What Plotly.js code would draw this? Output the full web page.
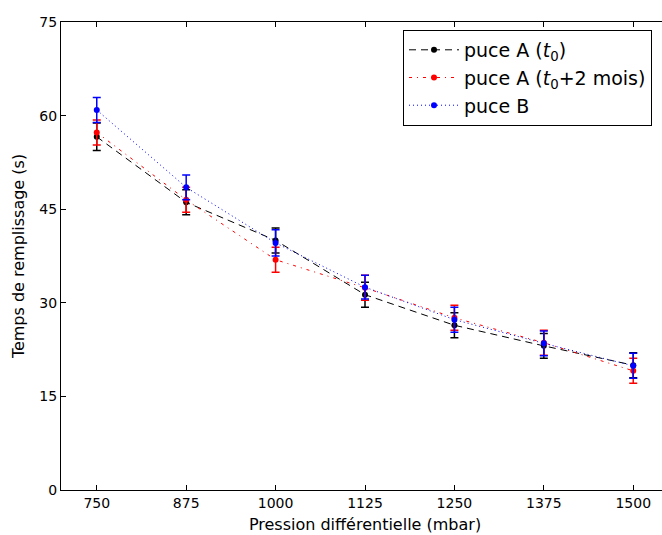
<!DOCTYPE html>
<html>
<head>
<meta charset="utf-8">
<script src="https://cdn.plot.ly/plotly-3.0.1.min.js"></script>
<style>
html, body { margin: 0; padding: 0; overflow: hidden; background: #fff; }
#chart { width: 670px; height: 535px; }
</style>
</head>
<body>
<div id="chart"></div>
<script>
const pressure = [750, 875, 1000, 1125, 1250, 1375, 1500];
const tickLabels = ['750', '875', '1000', '1125', '1250', '1375', '1500'];

const puceA_t0 = [56.6, 46.1, 40.0, 31.3, 26.4, 23.1, 20.0];
const puceA_t0_err = [2.2, 2.0, 2.0, 2.0, 2.0, 2.0, 2.0];

const puceA_2mois = [57.3, 46.5, 36.9, 32.4, 27.6, 23.6, 19.1];
const puceA_2mois_err = [2.0, 2.0, 2.0, 2.0, 2.0, 2.0, 2.0];

const puceB = [60.9, 48.5, 39.6, 32.5, 27.3, 23.5, 19.9];
const puceB_err = [2.0, 2.0, 2.1, 1.9, 2.0, 2.0, 2.0];

const names = ['puce A (<i>t</i><sub>0</sub>)', 'puce A (<i>t</i><sub>0</sub>+2 mois)', 'puce B'];

function mk(y, err, name, color, dash) {
  return {
    x: pressure, y: y, name: name, type: 'scatter', mode: 'lines+markers',
    line: {color: color, width: 1, dash: dash},
    marker: {color: color, size: 6},
    error_y: {type: 'data', array: err, visible: true, color: color, thickness: 1.5, width: 4}
  };
}

const data = [
  mk(puceA_t0, puceA_t0_err, names[0], 'black', '7px,5px'),
  mk(puceA_2mois, puceA_2mois_err, names[1], 'red', '3px,5px,1px,5px'),
  mk(puceB, puceB_err, names[2], 'blue', '1px,3px')
];

const layout = {
  width: 670, height: 535,
  margin: {l: 61, r: 1, t: 22, b: 45},
  paper_bgcolor: 'white', plot_bgcolor: 'white',
  font: {family: 'DejaVu Sans', size: 14, color: 'black'},
  showlegend: true,
  legend: {
    x: 0.5625, y: 0.983, xanchor: 'left', yanchor: 'top',
    bordercolor: 'black', borderwidth: 1, bgcolor: 'white',
    itemwidth: 50,
    font: {family: 'DejaVu Sans', size: 19, color: 'black'}
  },
  xaxis: {
    range: [700, 1550],
    tickvals: pressure, ticktext: tickLabels,
    ticks: 'inside', ticklen: 5, tickwidth: 1, tickcolor: 'black',
    showline: true, linecolor: 'black', linewidth: 1, mirror: 'ticks',
    showgrid: false, zeroline: false,
    tickfont: {family: 'DejaVu Sans', size: 14, color: 'black'},
    title: {text: 'Pression différentielle (mbar)', font: {family: 'DejaVu Sans', size: 16, color: 'black'}, standoff: 9}
  },
  yaxis: {
    range: [0, 75],
    tickvals: [0, 15, 30, 45, 60, 75],
    ticks: 'inside', ticklen: 5, tickwidth: 1, tickcolor: 'black',
    showline: true, linecolor: 'black', linewidth: 1, mirror: 'ticks',
    showgrid: false, zeroline: false,
    tickfont: {family: 'DejaVu Sans', size: 14, color: 'black'},
    title: {text: 'Temps de remplissage (s)', font: {family: 'DejaVu Sans', size: 16, color: 'black'}, standoff: 10}
  }
};

Plotly.newPlot('chart', data, layout, {displayModeBar: false, staticPlot: true});
</script>
</body>
</html>
